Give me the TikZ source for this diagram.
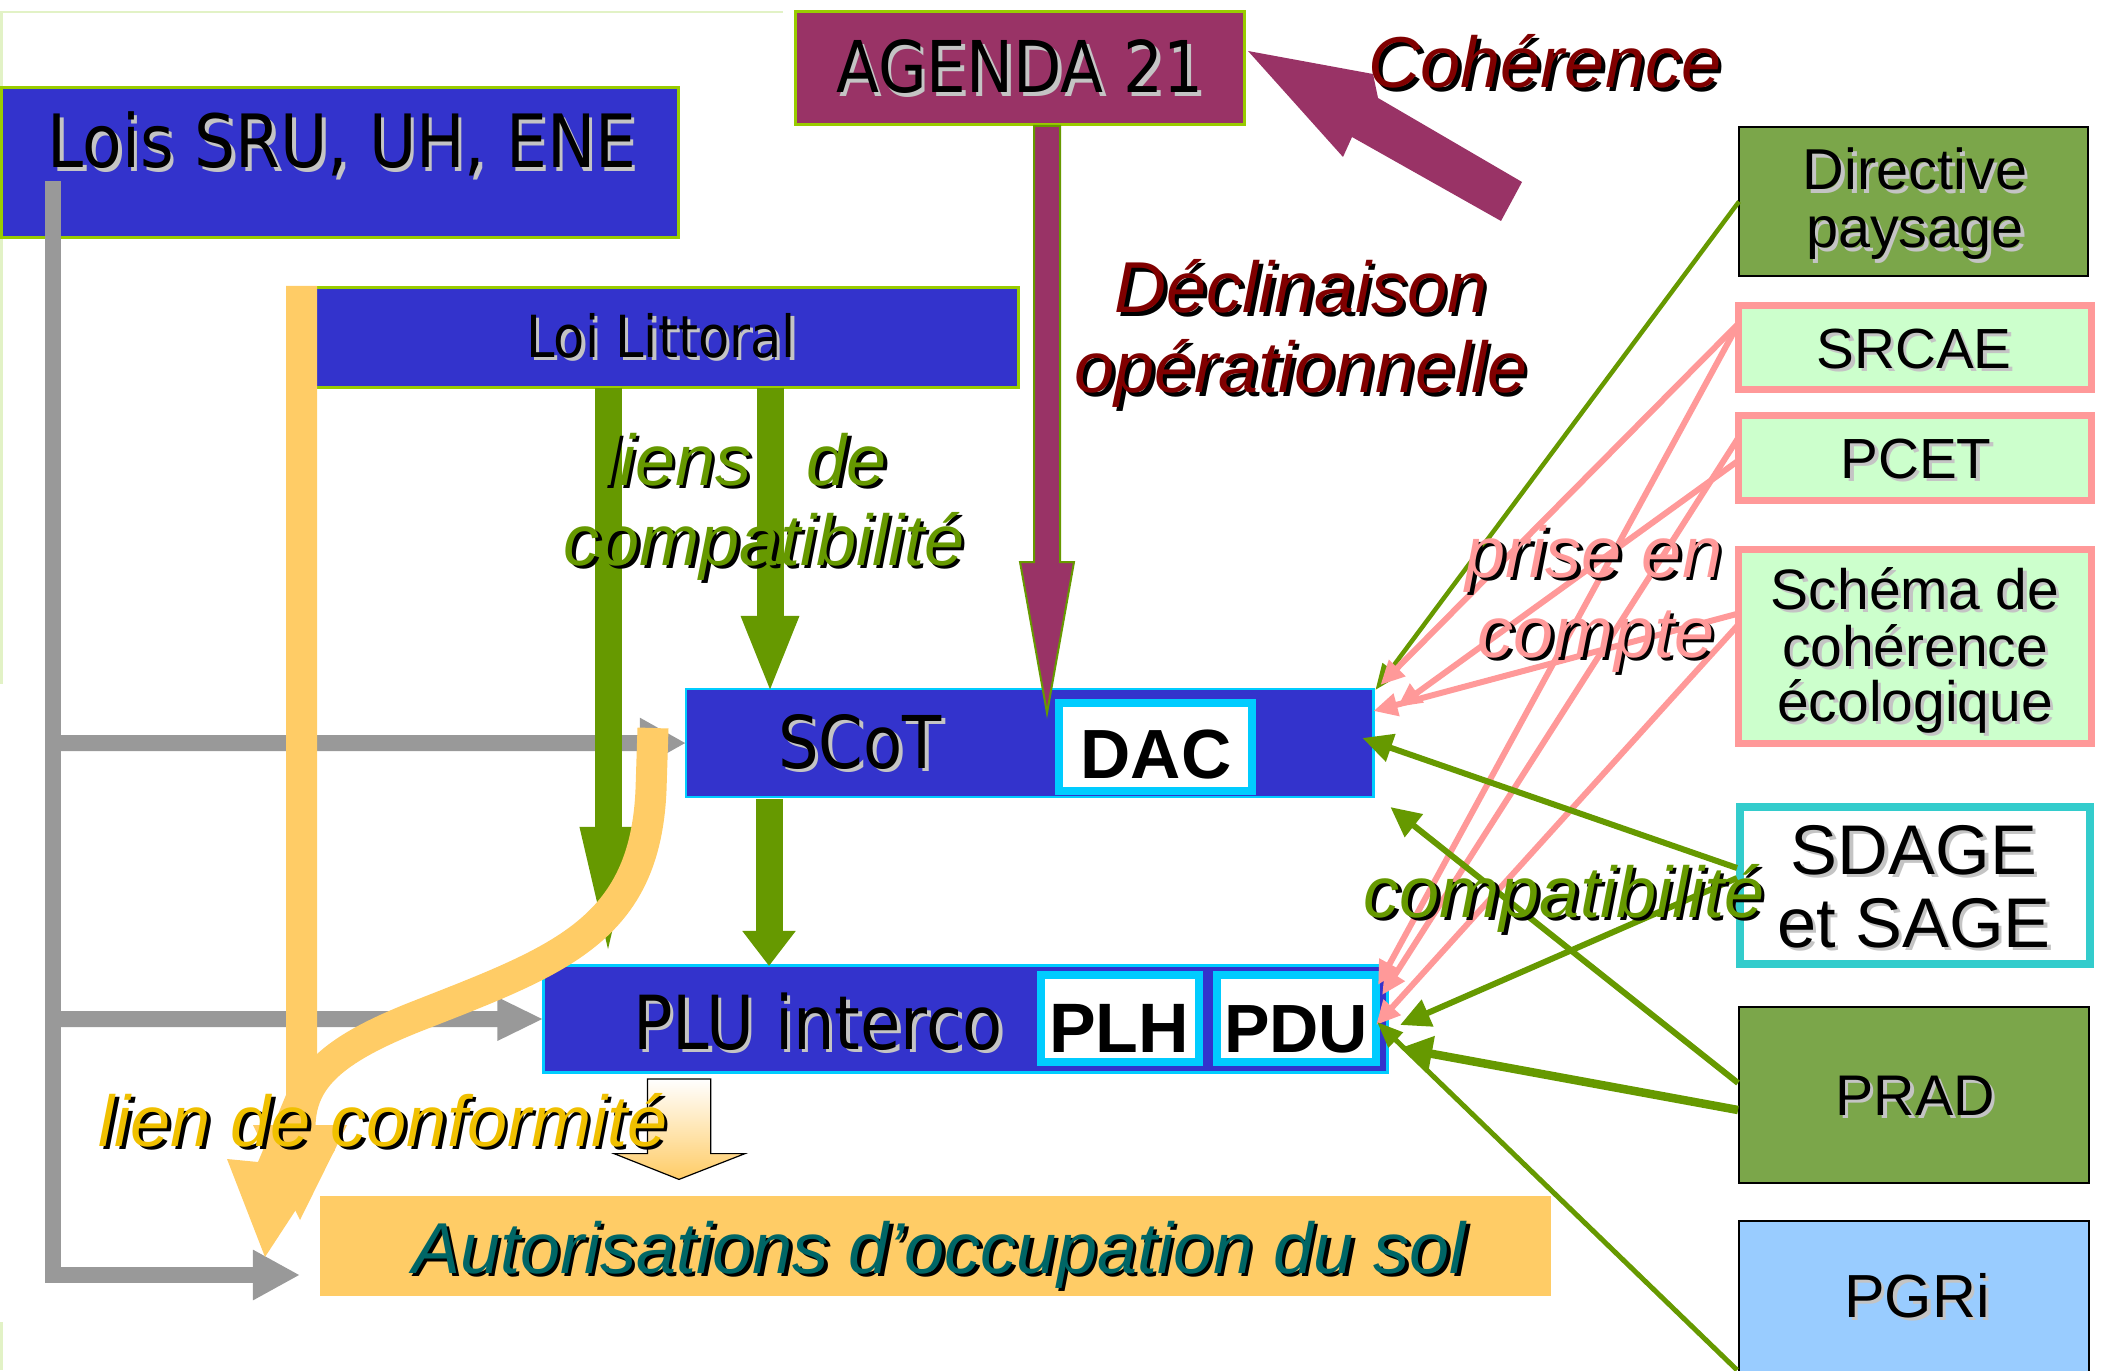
\documentclass[tikz,border=0pt]{standalone}
\usepackage{fontspec}
\setmainfont{Liberation Sans}
\newfontfamily\titlefont[FakeStretch=0.88]{DejaVu Sans}
\usetikzlibrary{arrows.meta,calc}
\definecolor{cblue}{HTML}{3333CC}
\definecolor{clime}{HTML}{99CC00}
\definecolor{cmaroon}{HTML}{993366}
\definecolor{cdred}{HTML}{800000}
\definecolor{cgreen}{HTML}{669900}
\definecolor{colive}{HTML}{7BA64A}
\definecolor{cpink}{HTML}{FF9999}
\definecolor{cmint}{HTML}{CCFFCC}
\definecolor{cteal}{HTML}{33CCCC}
\definecolor{csky}{HTML}{99CCFF}
\definecolor{ccyan}{HTML}{00CCFF}
\definecolor{cyel}{HTML}{FFCC66}
\definecolor{cgold}{HTML}{F0C000}
\definecolor{ctealtxt}{HTML}{006666}
\definecolor{cgray}{HTML}{999999}
\definecolor{cshadow}{HTML}{C4C4C4}
\definecolor{cfaint}{HTML}{E2F2C6}
\newcommand\shd[3]{\makebox[0pt][l]{\kern1pt\raisebox{-1pt}{\textcolor{#2}{#3}}}\textcolor{#1}{#3}}
\newcommand\itl[2]{\fontsize{20.5}{22}\selectfont\itshape\shd{#1}{black}{#2}}
\newcommand\ttl[2]{\titlefont\fontsize{#1}{#1}\selectfont\shd{black}{cshadow}{#2}}
\newcommand\arl[2]{\fontsize{#1}{#1}\selectfont\shd{black}{cshadow}{#2}}
\newcommand\arb[2]{\fontsize{#1}{#1}\selectfont\bfseries #2}
\begin{document}
\begin{tikzpicture}[x=0.01cm,y=-0.01cm,
  box/.style={inner sep=0pt,outer sep=0pt,anchor=north west},
  lbl/.style={inner sep=0pt,outer sep=0pt,anchor=base},
  grayarr/.style={draw=cgray,line width=0.16cm,-{Triangle[length=0.46cm,width=0.47cm]}},
  biggreen/.style={draw=cgreen,line width=0.27cm},
  pinkarr/.style={draw=cpink,line width=0.06cm,-{Triangle[length=0.24cm,width=0.22cm]}},
  thingreen/.style={draw=cgreen,line width=0.045cm,-{Triangle[length=0.26cm,width=0.2cm]}},
  midgreen/.style={draw=cgreen,line width=0.06cm,-{Triangle[length=0.3cm,width=0.28cm]}},
]
\useasboundingbox (0,0) rectangle (2104,1370);
% faint slide edges
\draw[cfaint,line width=0.02cm] (0,12) -- (783,12);
\draw[cfaint,line width=0.03cm] (1,12) -- (1,684);
\draw[cfaint,line width=0.03cm] (1,1322) -- (1,1370);
% boxes
\node[box,fill=cblue,draw=clime,line width=0.03cm,minimum width=6.77cm,minimum height=1.5cm] (lois) at (1.5,87.5) {};
\node[box,fill=cmaroon,draw=clime,line width=0.03cm,minimum width=4.49cm,minimum height=1.13cm] (agenda) at (795.5,11.5) {};
\node[box,fill=cblue,draw=clime,line width=0.03cm,minimum width=7.17cm,minimum height=1.0cm] (loi) at (301.5,287.5) {};
\node[box,fill=cblue,draw=ccyan,line width=0.025cm,minimum width=6.87cm,minimum height=1.08cm] (scot) at (686,689) {};
\node[box,fill=white,draw=ccyan,line width=0.08cm,minimum width=1.93cm,minimum height=0.88cm] (dac) at (1059,703) {};
\node[box,fill=cblue,draw=ccyan,line width=0.03cm,minimum width=8.43cm,minimum height=1.07cm] (plu) at (543.5,965.5) {};
\node[box,fill=white,draw=ccyan,line width=0.08cm,minimum width=1.58cm,minimum height=0.87cm] (plh) at (1041,975) {};
\node[box,fill=white,draw=ccyan,line width=0.08cm,minimum width=1.59cm,minimum height=0.87cm] (pdu) at (1217,975) {};
\node[box,fill=cyel,minimum width=12.3cm,minimum height=1.0cm] (aut) at (320,1196) {};
\node[box,fill=colive,draw=black,line width=0.025cm,minimum width=3.49cm,minimum height=1.49cm] (dir) at (1739,127) {};
\node[box,fill=cmint,draw=cpink,line width=0.07cm,minimum width=3.53cm,minimum height=0.84cm] (srcae) at (1738.5,305.5) {};
\node[box,fill=cmint,draw=cpink,line width=0.07cm,minimum width=3.53cm,minimum height=0.85cm] (pcet) at (1738.5,415.5) {};
\node[box,fill=cmint,draw=cpink,line width=0.07cm,minimum width=3.53cm,minimum height=1.94cm] (schema) at (1738.5,549.5) {};
\node[box,fill=white,draw=cteal,line width=0.075cm,minimum width=3.5cm,minimum height=1.57cm] (sdage) at (1740,807) {};
\node[box,fill=colive,draw=black,line width=0.025cm,minimum width=3.5cm,minimum height=1.76cm] (prad) at (1739,1007) {};
\node[box,fill=csky,draw=black,line width=0.025cm,minimum width=3.5cm,minimum height=1.7cm] (pgri) at (1739,1221) {};
% gray connectors
\coordinate (gtop) at (53,181);
\coordinate (gb) at (53,1275);
\coordinate (gaut) at (300,1275);
\coordinate (gs) at (53,743);
\coordinate (gp) at (53,1019);
\draw[draw=cgray,line width=0.16cm,line join=miter,-{Triangle[length=0.47cm,width=0.47cm]}] (gtop) -- (gb) -- (gaut);
\draw[grayarr] (gs) -- (scot.west);
\draw[grayarr,-{Triangle[length=0.46cm,width=0.4cm]}] (gp) -- (plu.west);
% big green arrows
\coordinate (l1) at (608,387.5); \coordinate (l1e) at (608,977);
\coordinate (l2) at (770,387.5); \coordinate (l2e) at (770,694);
\coordinate (l3) at (769,799); \coordinate (l3e) at (769,966);
\draw[biggreen,-{Triangle[length=1.5cm,width=0.47cm]}] (l1) -- (l1e);
\draw[biggreen,-{Triangle[length=0.78cm,width=0.52cm]}] (l2) -- (l2e);
\draw[biggreen,-{Triangle[length=0.35cm,width=0.51cm]}] (l3) -- (l3e);
% maroon arrow from AGENDA 21
\draw[fill=cmaroon,draw=cgreen,line width=0.02cm] (1034,126) -- (1060,126) -- (1060,562) -- (1074,562) -- (1047,713) -- (1020,562) -- (1034,562) -- cycle;
% Coherence arrow
\fill[cmaroon] (1248,51) -- (1373,74) -- (1378,98) -- (1522,182) -- (1501,221) -- (1352,137) -- (1343,157) -- cycle;
% thin connectors right side
\draw[thingreen] (dir.west) -- ($(scot.north east)+(2,1)$);
\draw[pinkarr] ($(srcae.north west)+(0,18)$) -- ($(scot.north east)+(7,-4)$);
\draw[pinkarr] ($(srcae.north west)+(0,18)$) -- ($(pdu.north east)+(2,10)$);
\draw[pinkarr] ($(pcet.north west)+(0,22)$) -- ($(pdu.north east)+(6,20)$);
\draw[pinkarr] ($(pcet.north west)+(0,45)$) -- ($(scot.north east)+(24,18)$);
\draw[pinkarr] ($(schema.north west)+(0,64)$) -- ($(scot.north east)+(0,22)$);
\draw[pinkarr] ($(schema.north west)+(0,75)$) -- ($(pdu.north east)+(0,50)$);
\draw[midgreen] ($(sdage.north west)+(-3,61)$) -- ($(scot.north east)+(-11,49)$);
\draw[midgreen] ($(sdage.north west)+(-3,71)$) -- ($(pdu.north east)+(24,50)$);
\draw[midgreen] ($(prad.north west)+(-1,76)$) -- ($(scot.south east)+(17,10)$);
\draw[draw=cgreen,line width=0.085cm,-{Triangle[length=0.32cm,width=0.34cm]}] ($(prad.north west)+(-1,103)$) -- ($(pdu.north east)+(24,73)$);
\draw[thingreen,line width=0.05cm] ($(pgri.north west)+(-2,149)$) -- ($(pdu.north east)+(1,47)$);
% yellow arrows
\fill[cyel] (286,286) -- (317,286) -- (317,1100) -- (300,1150) -- (335,1150) -- (265,1257) -- (227,1159) -- (258,1162) -- (286,1095) -- cycle;
\draw[cyel,line width=0.31cm] (653,728) -- (651,790) .. controls (645,930) and (560,960) .. (420,1015) .. controls (330,1050) and (300,1080) .. (300,1128);
\fill[cyel] (253,1125) -- (347,1125) -- (300,1220) -- cycle;
% small down arrow
\draw[black,line width=0.012cm,top color=white,bottom color=cyel] (647.5,1079) -- (710.7,1079) -- (710.7,1153.6) -- (745,1153.6) -- (679,1179.4) -- (614,1153.6) -- (647.5,1153.6) -- cycle;
% texts
\node[lbl] (tlois) at (342,168) {\ttl{20.9}{Lois SRU, UH, ENE}};
\node[lbl] (tagenda) at (1020,93) {\ttl{20.3}{AGENDA 21}};
\node[lbl] (tloi) at (661,357) {\ttl{16.5}{Loi Littoral}};
\node[lbl] (tscot) at (860,768) {\ttl{20.7}{SCoT}};
\node[lbl] (tdac) at (1156,778) {\arb{19.8}{DAC}};
\node[lbl] (tplu) at (818,1049) {\ttl{21.2}{PLU interco}};
\node[lbl] (tplh) at (1119,1052) {\arb{19.9}{PLH}};
\node[lbl] (tpdu) at (1296,1052) {\arb{19.4}{PDU}};
\node[lbl] (taut) at (939,1273) {\itl{ctealtxt}{Autorisations d’occupation du sol}};
\node[lbl] (tcoh) at (1545,88) {\itl{cdred}{Cohérence}};
\node[lbl] (tdec1) at (1301,313) {\itl{cdred}{Déclinaison}};
\node[lbl] (tdec2) at (1301,393) {\itl{cdred}{opérationnelle}};
\node[lbl,anchor=base west] (tli1) at (603,485) {\itl{cgreen}{liens}};
\node[lbl,anchor=base east] (tli2) at (887,485) {\itl{cgreen}{de}};
\node[lbl] (tli3) at (764,565) {\itl{cgreen}{compatibilité}};
\node[lbl] (tpr1) at (1594,577) {\itl{cpink}{prise en}};
\node[lbl] (tpr2) at (1596,657) {\itl{cpink}{compte}};
\node[lbl] (tcomp) at (1564,917) {\itl{cgreen}{compatibilité}};
\node[lbl] (tconf) at (383,1146) {\itl{cgold}{lien de conformité}};
\node[lbl] (tdir1) at (1915,190) {\arl{16.4}{Directive}};
\node[lbl] (tdir2) at (1915,248) {\arl{16.4}{paysage}};
\node[lbl] (tsrcae) at (1914,368) {\arl{16.1}{SRCAE}};
\node[lbl] (tpcet) at (1916,478) {\arl{16.1}{PCET}};
\node[lbl] (tsc1) at (1915,609) {\arl{16.2}{Schéma de}};
\node[lbl] (tsc2) at (1915,666) {\arl{16.2}{cohérence}};
\node[lbl] (tsc3) at (1915,721) {\arl{16.2}{écologique}};
\node[lbl] (tsd1) at (1914,874) {\arl{20}{SDAGE}};
\node[lbl] (tsd2) at (1914,947) {\arl{20}{et SAGE}};
\node[lbl] (tprad) at (1915,1115) {\arl{16.3}{PRAD}};
\node[lbl] (tpgri) at (1917,1317) {\arl{17.3}{PGRi}};
\end{tikzpicture}
\end{document}
